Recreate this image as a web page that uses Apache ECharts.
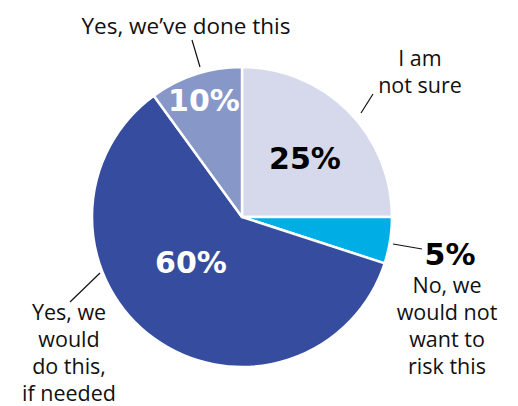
<!DOCTYPE html>
<html>
<head>
<meta charset="utf-8">
<script src="https://cdn.jsdelivr.net/npm/echarts@6/dist/echarts.min.js"></script>
<style>
  html, body { margin: 0; padding: 0; background: #ffffff; }
  #chart { width: 518px; height: 406px; }
</style>
</head>
<body>
<div id="chart"></div>
<script>
// Survey answers, clockwise from 12 o'clock
const categories = [
  'I am not sure',
  'No, we would not want to risk this',
  'Yes, we would do this, if needed',
  'Yes, we\u2019ve done this'
];
const shares = [25, 5, 60, 10];
const captions = [
  'I am\nnot sure',
  'No, we\nwould not\nwant to\nrisk this',
  'Yes, we\nwould\ndo this,\nif needed',
  'Yes, we\u2019ve done this'
];

// Styling
const sliceColors = ['#d5d9eb', '#00aee6', '#364d9f', '#8797c8'];
const pctColors = ['#000000', '#000000', '#ffffff', '#ffffff'];
const captionSizes = [21.5, 21.5, 21.5, 22.5];
const captionLineHeights = [27.5, 26.7, 26.7, 27];
const PIE_CENTER = [242, 217];
const PIE_RADIUS = 150;

// Label placement (centre of each text block) and leader lines
const pctAnchor = [[305, 158], [450, 254], [191, 262], [204, 100]];
const captionAnchor = [[420, 71], [447, 325], [69, 352], [186, 25]];
const leaders = [
  [[361, 113], [373, 94]],
  [[393, 244], [422, 249]],
  [[100, 273], [70, 302]],
  [[200, 67], [192, 40]]
];

const pieData = categories.map((name, i) => ({
  name: name,
  value: shares[i],
  itemStyle: { color: sliceColors[i] }
}));

const chart = echarts.init(document.getElementById('chart'), null, { renderer: 'svg' });

chart.setOption({
  animation: false,
  backgroundColor: '#ffffff',
  series: [
    {
      // visible slices with their percentages
      type: 'pie',
      center: PIE_CENTER,
      radius: PIE_RADIUS,
      startAngle: 90,
      clockwise: true,
      avoidLabelOverlap: false,
      silent: true,
      z: 2,
      itemStyle: { borderColor: '#ffffff', borderWidth: 2.5 },
      label: {
        show: true,
        position: 'inside',
        formatter: (p) => p.value + '%',
        fontFamily: 'DejaVu Sans',
        fontWeight: 'bold',
        fontSize: 30,
        color: '#000'
      },
      labelLine: { show: false },
      labelLayout: (p) => ({
        x: pctAnchor[p.dataIndex][0],
        y: pctAnchor[p.dataIndex][1],
        align: 'center',
        verticalAlign: 'middle'
      }),
      data: pieData.map((d, i) => Object.assign({}, d, {
        label: { color: pctColors[i] }
      }))
    },
    {
      // transparent twin carrying the answer captions and leader lines
      type: 'pie',
      center: PIE_CENTER,
      radius: PIE_RADIUS,
      startAngle: 90,
      clockwise: true,
      avoidLabelOverlap: false,
      silent: true,
      z: 1,
      itemStyle: { color: 'rgba(0,0,0,0)', borderWidth: 0 },
      label: {
        show: true,
        position: 'outside',
        formatter: (p) => captions[p.dataIndex],
        fontFamily: 'Open Sans',
        color: '#111111',
        align: 'center'
      },
      labelLine: {
        show: true,
        lineStyle: { color: '#111111', width: 1.2 }
      },
      labelLayout: (p) => {
        const seg = leaders[p.dataIndex];
        return {
          x: captionAnchor[p.dataIndex][0],
          y: captionAnchor[p.dataIndex][1],
          align: 'center',
          verticalAlign: 'middle',
          labelLinePoints: [
            seg[0],
            [(seg[0][0] + seg[1][0]) / 2, (seg[0][1] + seg[1][1]) / 2],
            seg[1]
          ]
        };
      },
      data: categories.map((name, i) => ({
        name: name,
        value: shares[i],
        label: { fontSize: captionSizes[i], lineHeight: captionLineHeights[i] }
      }))
    }
  ]
});
</script>
</body>
</html>
